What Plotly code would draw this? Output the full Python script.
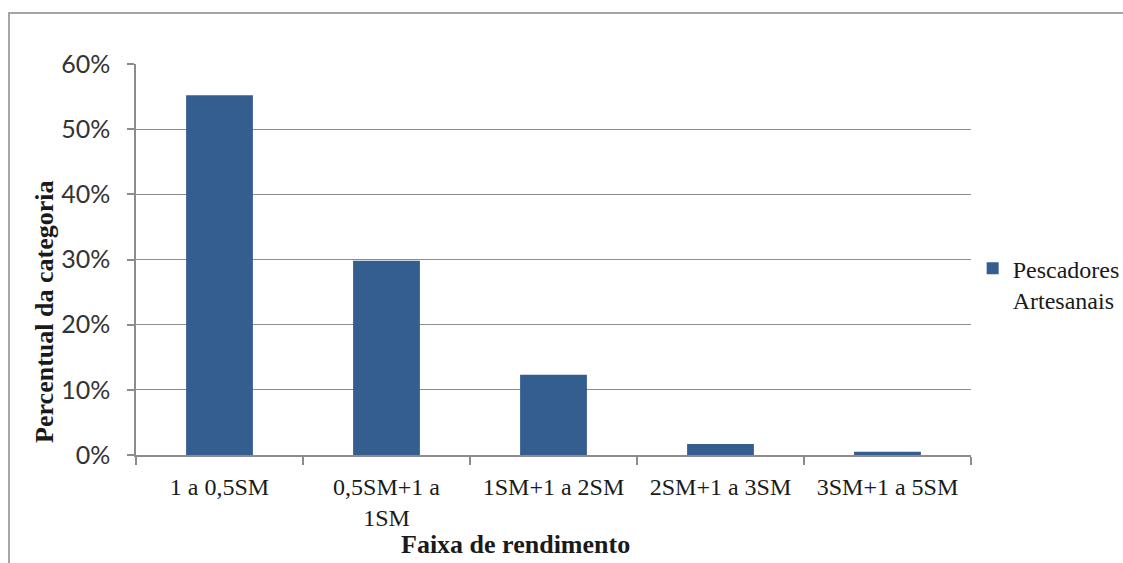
import plotly.graph_objects as go

categorias = ["1 a 0,5SM", "0,5SM+1 a<br>1SM", "1SM+1 a 2SM", "2SM+1 a 3SM", "3SM+1 a 5SM"]
percentuais = [0.552, 0.298, 0.123, 0.017, 0.005]
serie_nome = "Pescadores<br>Artesanais"
y_ticks = [0, 0.1, 0.2, 0.3, 0.4, 0.5, 0.6]
y_labels = ["0%", "10%", "20%", "30%", "40%", "50%", "60%"]

serif = "Liberation Serif, Times New Roman, serif"
sans = "Lato, Carlito, Calibri, sans-serif"
cinza = "#8c8c8c"

fig = go.Figure()
fig.add_trace(go.Bar(
    x=categorias, y=percentuais, name=serie_nome,
    marker=dict(color="#345E8F", line=dict(width=0)),
    showlegend=True,
))

fig.update_layout(
    width=1123, height=563,
    margin=dict(l=136, r=152, t=64, b=108, autoexpand=False),
    paper_bgcolor="white", plot_bgcolor="white",
    bargap=0.6,
    font=dict(family=serif, size=24, color="#1a1a1a"),
    xaxis=dict(
        type="category", showline=True, linecolor=cinza, linewidth=1.5,
        ticks="outside", tickson="boundaries", ticklen=8, tickcolor=cinza,
        tickwidth=1.5, tickangle=0, automargin=False,
        tickfont=dict(family=serif, size=24, color="#1a1a1a"),
        ticklabelstandoff=9, showgrid=False,
    ),
    yaxis=dict(
        range=[0, 0.6], tickvals=y_ticks, ticktext=y_labels,
        showline=True, linecolor=cinza, linewidth=1.5, automargin=False,
        ticks="outside", ticklen=7, tickcolor=cinza, tickwidth=1.5,
        showgrid=True, gridcolor=cinza, gridwidth=1.2, zeroline=False,
        tickfont=dict(family=sans, size=25, color="#333333"),
        ticklabelstandoff=12,
    ),
    legend=dict(
        x=1.002, xanchor="left", y=0.437, yanchor="middle",
        font=dict(family=serif, size=24, color="#1a1a1a"),
        valign="top", itemwidth=30, bgcolor="rgba(0,0,0,0)",
    ),
    shapes=[dict(
        type="rect", xref="paper", yref="paper",
        x0=-0.1521, x1=1.2, y0=-0.5, y1=1.1304,
        line=dict(color="#a6a6a6", width=2), layer="below",
    )],
    annotations=[
        dict(text="<b>Percentual da categoria</b>", textangle=-90,
             xref="paper", yref="paper", x=-0.109, y=0.366,
             xanchor="center", yanchor="middle", showarrow=False,
             font=dict(family=serif, size=26, color="#1a1a1a")),
        dict(text="<b>Faixa de rendimento</b>",
             xref="paper", yref="paper", x=0.454, y=-0.23,
             xanchor="center", yanchor="middle", showarrow=False,
             font=dict(family=serif, size=26, color="#1a1a1a")),
    ],
)

fig.write_html("out.html")
